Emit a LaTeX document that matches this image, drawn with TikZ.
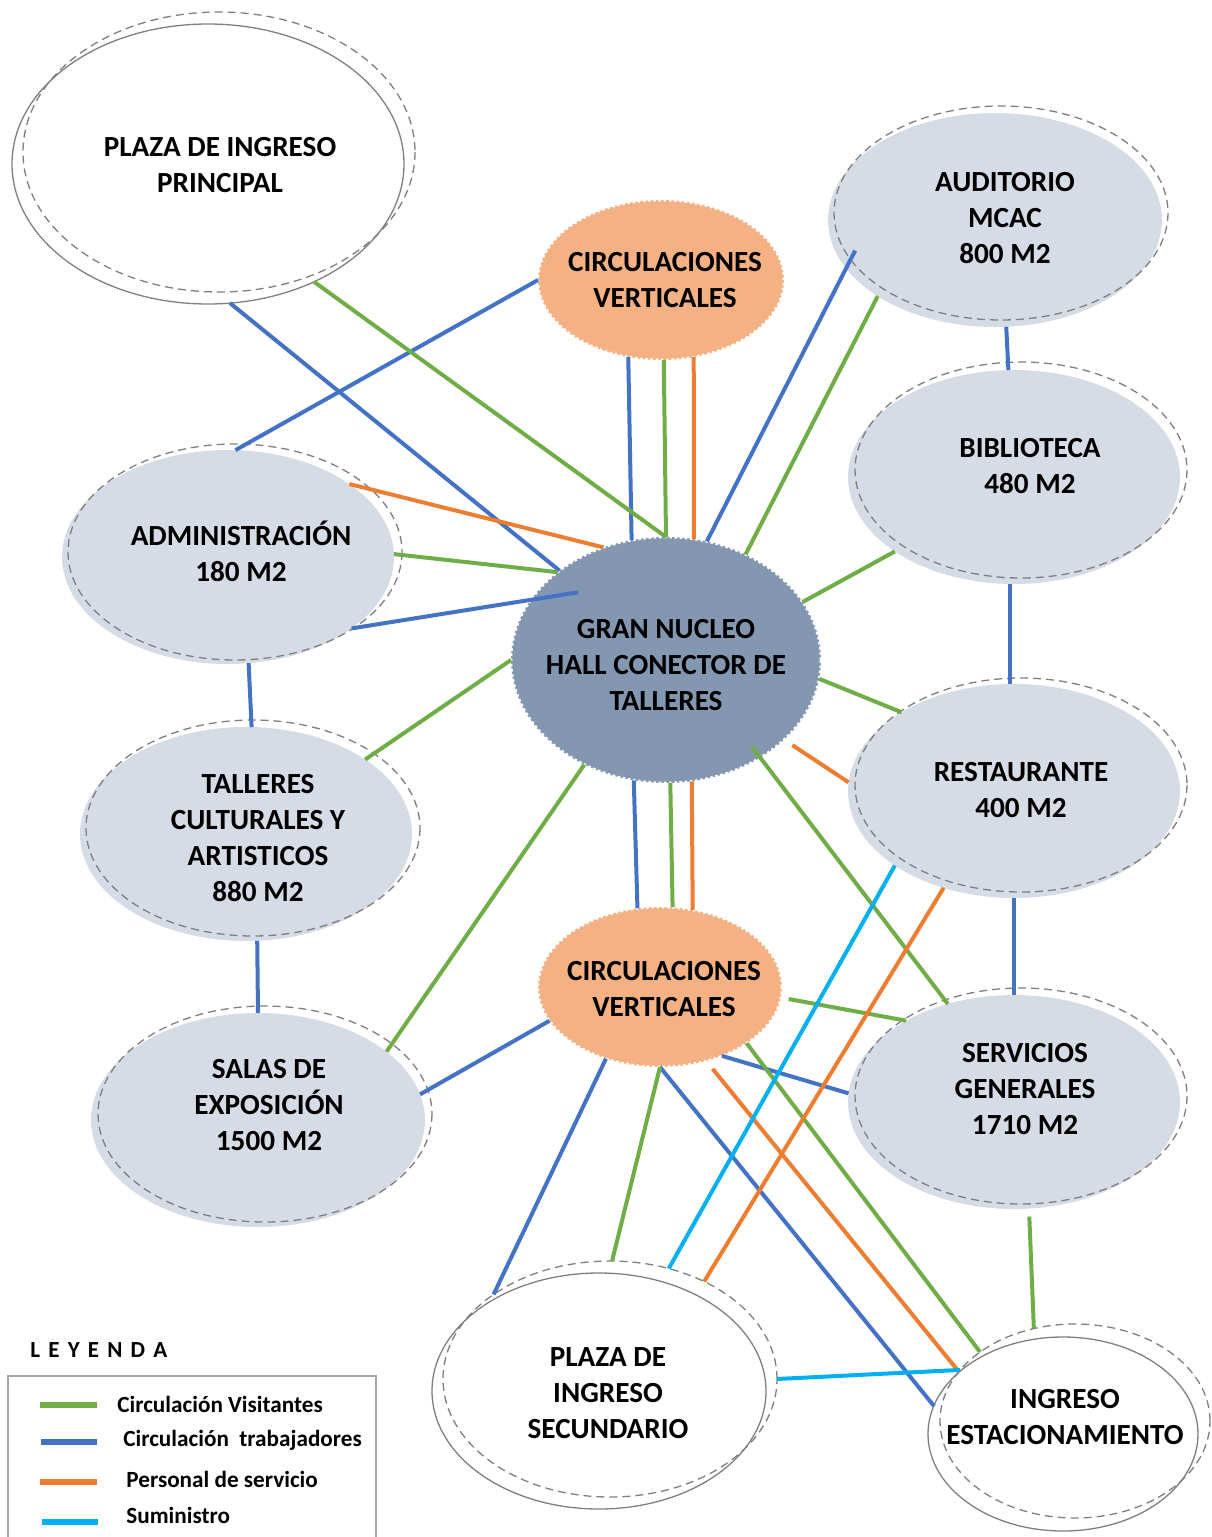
\documentclass[tikz,border=0pt]{standalone}
\usepackage{fontspec}
\setmainfont{Carlito}
\usetikzlibrary{shapes.geometric}
\definecolor{roomfill}{HTML}{D6DCE5}
\definecolor{nucfill}{HTML}{8497B0}
\definecolor{circfill}{HTML}{F4B183}
\definecolor{cvis}{HTML}{70AD47}
\definecolor{ctrab}{HTML}{4472C4}
\definecolor{cserv}{HTML}{ED7D31}
\definecolor{csum}{HTML}{00B0F0}
\definecolor{outl}{HTML}{7F7F7F}
\definecolor{legline}{HTML}{A6A6A6}
\begin{document}
\begin{tikzpicture}[x=0.5pt,y=-0.5pt,
  room/.style={ellipse, fill=roomfill, inner sep=0pt, outer sep=0pt},
  core/.style={ellipse, fill=nucfill, draw=white, line width=1.3pt, dash pattern=on 1.3pt off 1.3pt, inner sep=0pt, outer sep=0pt},
  circv/.style={ellipse, fill=circfill, draw=white, line width=1.3pt, dash pattern=on 1.3pt off 1.3pt, inner sep=0pt, outer sep=0pt},
  plaza/.style={ellipse, draw=outl, line width=0.65pt, inner sep=0pt, outer sep=0pt},
  plazadash/.style={ellipse, draw=outl, line width=0.65pt, dash pattern=on 4pt off 2.5pt, inner sep=0pt, outer sep=0pt},
  ring/.style={draw=outl, line width=0.65pt, dash pattern=on 4pt off 2.5pt},
  solidring/.style={draw=outl, line width=0.65pt},
  lbl/.style={font=\bfseries\fontsize{14.6}{18}\selectfont, align=center, inner sep=0pt},
  legtxt/.style={font=\bfseries\fontsize{11.6}{13}\selectfont, anchor=west, inner sep=0pt},
  conn/.style={line width=2pt},
  vis/.style={conn, draw=cvis},
  trab/.style={conn, draw=ctrab},
  serv/.style={conn, draw=cserv},
  sumi/.style={conn, draw=csum},
  legl/.style={line width=3pt}
]
\useasboundingbox (0,0) rectangle (1211,1537);

% ---------- shapes ----------
\node[plaza, minimum width=196pt, minimum height=140pt] (P1) at (208,164) {};
\draw[ring] (219,152) ellipse [x radius=196, y radius=140];

\node[circv, minimum width=123pt, minimum height=80pt] (CT) at (661,280) {};

\node[room, minimum width=167pt, minimum height=107pt] (AU) at (995,220) {};
\draw[ring] (1001,213) ellipse [x radius=167, y radius=107];

\node[room, minimum width=166pt, minimum height=107pt] (BI) at (1014,477) {};
\draw[ring] (1021,470) ellipse [x radius=166, y radius=108];

\node[room, minimum width=166pt, minimum height=107pt] (AD) at (228,557) {};
\draw[ring] (235,552) ellipse [x radius=167, y radius=108];

\node[core, minimum width=155pt, minimum height=123pt] (NU) at (666,660) {};

\node[room, minimum width=166pt, minimum height=107pt] (TA) at (246,834) {};
\draw[ring] (253,828) ellipse [x radius=167, y radius=108];

\node[room, minimum width=166pt, minimum height=107pt] (RE) at (1014,791) {};
\draw[ring] (1021,785) ellipse [x radius=166, y radius=107];

\node[circv, minimum width=122pt, minimum height=80pt] (CB) at (660,987) {};

\node[room, minimum width=167pt, minimum height=107pt] (SA) at (258,1120) {};
\draw[ring] (265,1114) ellipse [x radius=167, y radius=108];

\node[room, minimum width=166pt, minimum height=107pt] (SE) at (1014,1102) {};
\draw[ring] (1021,1096) ellipse [x radius=166, y radius=108];

\node[plazadash, minimum width=167pt, minimum height=118pt] (P2) at (610,1379) {};
\draw[solidring] (599,1391) ellipse [x radius=167, y radius=118];

\node[plazadash, minimum width=135pt, minimum height=97pt] (IE) at (1075,1421) {};
\draw[solidring] (1063,1434) ellipse [x radius=135, y radius=97];

% ---------- connectors: trabajadores ----------
\draw[trab] (P1.-81.6) -- (NU.140.5);
\draw[trab] (CT.180) -- (AD.86);
\draw[trab] (CT.247) -- (NU.106.3);
\draw[trab, shorten <=-10pt] (AU.198.8) -- (NU.71.1);
\draw[trab] (AU.-84.2) -- (BI.93.7);
\draw[trab, shorten >=-24pt] (AD.-30.8) -- (NU.156.6);
\draw[trab] (AD.-79.3) -- (TA.87.3);
\draw[trab] (BI.-92.6) -- (RE.92.2);
\draw[trab] (TA.-84.8) -- (SA.90);
\draw[trab] (NU.255.1) -- (CB.106.7);
\draw[trab] (RE.-90.5) -- (SE.90);
\draw[trab] (CB.197) -- (SA.9.4);
\draw[trab] (CB.233.8) -- (P2.144.3);
\draw[trab] (CB.-48) -- (SE.177.8);
\draw[trab, shorten >=5pt] (CB.-90) -- (IE.177.6);

% ---------- connectors: visitantes ----------
\draw[vis] (P1.-48) -- (NU.90.5);
\draw[vis] (CT.-88.6) -- (NU.90);
\draw[vis] (AU.213.9) -- (NU.53.6);
\draw[vis] (AD.1.7) -- (NU.141.7);
\draw[vis] (BI.212.2) -- (NU.23.9);
\draw[vis] (NU.-7.4) -- (RE.145.2);
\draw[vis] (NU.180.8) -- (TA.32.5);
\draw[vis] (NU.232.5) -- (SA.28.8);
\draw[vis] (NU.-88.1) -- (CB.81.7);
\draw[vis, shorten <=-7pt] (NU.-46.4) -- (SE.124.7);
\draw[vis, shorten <=4pt] (CB.-5.3) -- (SE.143.3);
\draw[vis] (CB.-90) -- (P2.89.5);
\draw[vis] (CB.-33.8) -- (IE.144.3);
\draw[vis, shorten <=4pt] (SE.-82.6) -- (IE.114.2);

% ---------- connectors: servicio ----------
\draw[serv] (CT.-67.6) -- (NU.77.2);
\draw[serv] (AD.31.7) -- (NU.119.5);
\draw[serv, shorten <=5pt] (NU.-34.3) -- (RE.177.4);
\draw[serv] (NU.-78.2) -- (CB.67.4);
\draw[serv] (RE.234.6) -- (P2.46.2);
\draw[serv, shorten <=5pt] (CB.-58.4) -- (IE.157.4);

% ---------- connectors: suministro ----------
\draw[sumi] (RE.212.4) -- (P2.62.8);
\draw[sumi] (P2.0) -- (IE.156.7);

% ---------- labels ----------
\node[lbl] (P1t) at (220,165) {PLAZA DE INGRESO\\PRINCIPAL};
\node[lbl] (CTt) at (665,280) {CIRCULACIONES\\VERTICALES};
\node[lbl] (AUt) at (1005,218) {AUDITORIO\\MCAC\\800 M2};
\node[lbl] (BIt) at (1030,466) {BIBLIOTECA\\480 M2};
\node[lbl] (ADt) at (241,551) {ADMINISTRACIÓN\\180 M2};
\node[lbl] (NUt) at (666,665) {GRAN NUCLEO\\HALL CONECTOR DE\\TALLERES};
\node[lbl] (TAt) at (258,838) {TALLERES\\CULTURALES Y\\ARTISTICOS\\880 M2};
\node[lbl] (REt) at (1021,790) {RESTAURANTE\\400 M2};
\node[lbl] (CBt) at (664,989) {CIRCULACIONES\\VERTICALES};
\node[lbl] (SAt) at (269,1105) {SALAS DE\\EXPOSICIÓN\\1500 M2};
\node[lbl] (SEt) at (1025,1089) {SERVICIOS\\GENERALES\\1710 M2};
\node[lbl] (P2t) at (608,1393) {PLAZA DE\\INGRESO\\SECUNDARIO};
\node[lbl] (IEt) at (1065,1417) {INGRESO\\ESTACIONAMIENTO};

% ---------- legend ----------
\node[legtxt, font=\bfseries\fontsize{11.5}{13}\selectfont] (legT) at (30,1350) {L\hspace{4.1pt}E\hspace{4.1pt}Y\hspace{4.1pt}E\hspace{4.1pt}N\hspace{4.1pt}D\hspace{4.1pt}A};
\draw[legline, line width=0.8pt] (8,1560) -- (8,1376) -- (376,1376) -- (376,1560);
\coordinate (l1a) at (40,1405); \coordinate (l1b) at (97,1405);
\coordinate (l2a) at (41,1442); \coordinate (l2b) at (97,1442);
\coordinate (l3a) at (40,1482); \coordinate (l3b) at (97,1482);
\coordinate (l4a) at (42,1522); \coordinate (l4b) at (98,1522);
\draw[legl, draw=cvis] (l1a) -- (l1b);
\draw[legl, draw=ctrab] (l2a) -- (l2b);
\draw[legl, draw=cserv] (l3a) -- (l3b);
\draw[legl, draw=csum] (l4a) -- (l4b);
\node[legtxt] (lt1) at (117,1404) {Circulación Visitantes};
\node[legtxt] (lt2) at (123,1440) {Circulación\ \ trabajadores};
\node[legtxt] (lt3) at (126,1479) {Personal de servicio};
\node[legtxt] (lt4) at (126,1515) {Suministro};
\end{tikzpicture}
\end{document}
